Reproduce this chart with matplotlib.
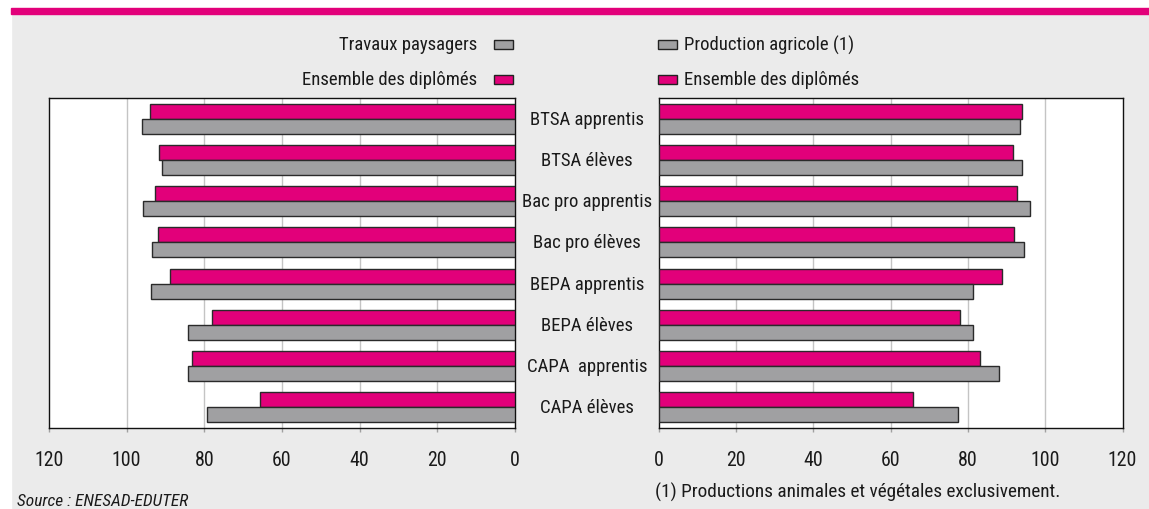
import matplotlib
matplotlib.use("Agg")
import matplotlib.pyplot as plt
from matplotlib import font_manager
from matplotlib.patches import Rectangle
import numpy as np

categories = ["BTSA apprentis", "BTSA élèves", "Bac pro apprentis", "Bac pro élèves",
              "BEPA apprentis", "BEPA élèves", "CAPA  apprentis", "CAPA élèves"]
ensemble = [94.0, 91.7, 92.7, 92.0, 88.8, 78.1, 83.2, 65.7]
travaux_paysagers = [96.1, 90.8, 95.9, 93.5, 93.8, 84.3, 84.1, 79.2]
production_agricole = [93.5, 94.1, 96.1, 94.5, 81.3, 81.3, 88.1, 77.4]
ticks = [0, 20, 40, 60, 80, 100, 120]

names = {f.name for f in font_manager.fontManager.ttflist}
family = None
for cand in ["Liberation Sans Narrow", "Roboto Condensed", "Open Sans Condensed", "Liberation Sans"]:
    if cand in names:
        family = cand
        break
if family is None:
    family = "DejaVu Sans"
plt.rcParams['font.family'] = [family, 'DejaVu Sans']
FS = 13.5 if "Narrow" in family or "Condensed" in family else 11.5

MAGENTA = "#e2007a"
GRAY = "#a0a0a2"
BG = "#ebebeb"
EDGE = "#2a2a2a"

W, H = 1149, 510
fig = plt.figure(figsize=(W / 100, H / 100), dpi=100, facecolor=BG)

# white margins and magenta band
fig.patches.append(Rectangle((0, 0), 11 / W, 1, transform=fig.transFigure, color="white", zorder=0))
fig.patches.append(Rectangle((0, 1 - 9 / H), 1, 9 / H, transform=fig.transFigure, color="white", zorder=0))
fig.patches.append(Rectangle((11 / W, 1 - 14.5 / H), 1 - 11 / W, 5.5 / H, transform=fig.transFigure,
                             color=MAGENTA, zorder=1))


def fx(px):
    return px / W


def fy(py):
    return 1 - py / H


ax_top, ax_bot = 99, 429
axL = fig.add_axes([fx(49), fy(ax_bot), fx(515) - fx(49), (ax_bot - ax_top) / H])
axR = fig.add_axes([fx(658.5), fy(ax_bot), fx(1122.5) - fx(658.5), (ax_bot - ax_top) / H])

y = np.arange(len(categories))
bh = 0.366

for ax, other in [(axL, travaux_paysagers), (axR, production_agricole)]:
    ax.set_facecolor("white")
    ax.barh(y - bh / 2, ensemble, height=bh, color=MAGENTA, edgecolor=EDGE, linewidth=1, zorder=3)
    ax.barh(y + bh / 2, other, height=bh, color=GRAY, edgecolor=EDGE, linewidth=1, zorder=3)
    ax.set_ylim(len(categories) - 0.5, -0.5)
    ax.set_xlim(0, 120)
    ax.set_xticks(ticks)
    ax.set_xticklabels([str(t) for t in ticks], fontsize=FS + 0.8)
    ax.set_yticks([])
    for t in ticks[1:-1]:
        ax.axvline(t, color="#c4c4c4", linewidth=1, zorder=1)
    ax.tick_params(axis="x", length=3, width=1, color="#a0a0a0", pad=13, labelcolor="#1a1a1a")
    for s in ax.spines.values():
        s.set_color("#111111")
        s.set_linewidth(1)

axL.set_xlim(120, 0)

# category labels between the two panels
trans = axL.get_yaxis_transform()
xc = (587 - 49) / (515 - 49)
for i, c in enumerate(categories):
    axL.text(xc, i, c, transform=trans, ha="center", va="center", fontsize=FS,
             color="#1a1a1a", clip_on=False)

# legends
def legend_box(xpx, ypx, color):
    fig.patches.append(Rectangle((fx(xpx), fy(ypx + 4.5)), 19 / W, 9 / H, transform=fig.transFigure,
                                 facecolor=color, edgecolor="#222222", linewidth=1, zorder=5))

legend_box(494, 45, GRAY)
legend_box(494, 80, MAGENTA)
fig.text(fx(477), fy(45), "Travaux paysagers", ha="right", va="center", fontsize=FS, color="#1a1a1a")
fig.text(fx(477), fy(80), "Ensemble des diplômés", ha="right", va="center", fontsize=FS, color="#1a1a1a")
legend_box(658, 45, GRAY)
legend_box(658, 80, MAGENTA)
fig.text(fx(684), fy(45), "Production agricole (1)", ha="left", va="center", fontsize=FS, color="#1a1a1a")
fig.text(fx(684), fy(80), "Ensemble des diplômés", ha="left", va="center", fontsize=FS, color="#1a1a1a")

# footer
fig.text(fx(17), fy(502), "Source : ENESAD-EDUTER", ha="left", va="center", fontsize=FS - 1,
         style="italic", color="#1a1a1a")
fig.text(fx(655), fy(492), "(1) Productions animales et végétales exclusivement.", ha="left",
         va="center", fontsize=FS + 0.4, color="#1a1a1a")

fig.savefig("out.png", dpi=100, facecolor=BG)
